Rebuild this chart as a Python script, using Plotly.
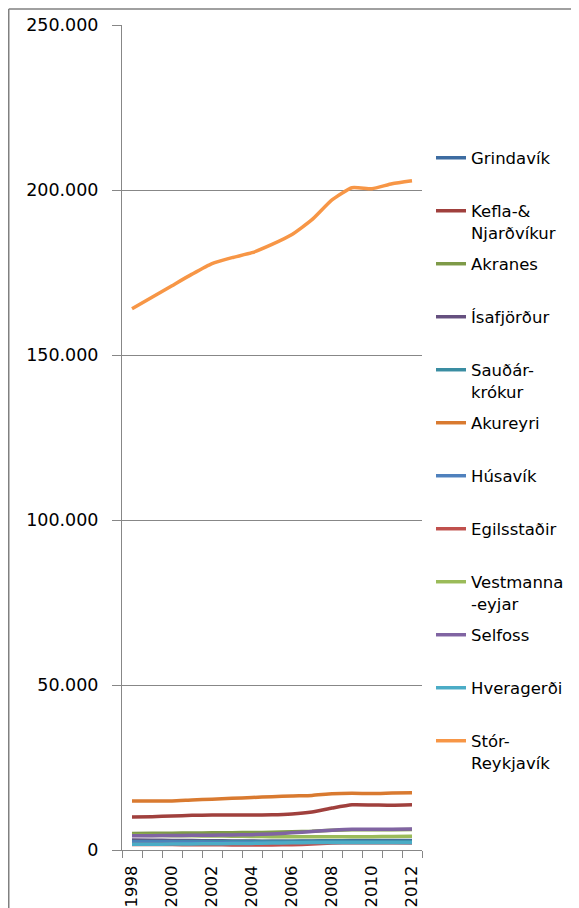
import plotly.graph_objects as go

years = list(range(1998, 2013))

names = ["Grindavík", "Kefla-&<br>Njarðvíkur", "Akranes", "Ísafjörður", "Sauðár-<br>krókur",
         "Akureyri", "Húsavík", "Egilsstaðir", "Vestmanna<br>-eyjar", "Selfoss",
         "Hveragerði", "Stór-<br>Reykjavík"]

grindavik = [2300, 2300, 2350, 2400, 2450, 2450, 2500, 2550, 2650, 2750, 2800, 2850, 2850, 2850, 2850]
keflavik = [10000, 10100, 10300, 10500, 10600, 10600, 10600, 10650, 10900, 11500, 12700, 13700, 13650, 13550, 13700]
akranes = [5000, 5050, 5100, 5150, 5200, 5250, 5300, 5350, 5500, 5650, 5950, 6150, 6150, 6150, 6200]
isafjordur = [3000, 2950, 2900, 2850, 2800, 2750, 2700, 2650, 2600, 2600, 2550, 2550, 2550, 2550, 2550]
saudarkrokur = [2600, 2600, 2600, 2600, 2600, 2600, 2600, 2600, 2600, 2600, 2650, 2600, 2600, 2600, 2550]
akureyri = [14850, 14850, 14850, 15150, 15400, 15650, 15900, 16150, 16400, 16550, 17050, 17200, 17100, 17250, 17350]
husavik = [2450, 2400, 2400, 2350, 2300, 2300, 2300, 2250, 2250, 2250, 2250, 2250, 2250, 2250, 2200]
egilsstadir = [1700, 1650, 1650, 1600, 1600, 1550, 1550, 1550, 1600, 1800, 2100, 2200, 2200, 2200, 2200]
vestmannaeyjar = [4450, 4400, 4350, 4300, 4250, 4200, 4100, 4050, 4050, 4000, 4000, 4050, 4050, 4100, 4150]
selfoss = [4300, 4350, 4400, 4450, 4500, 4550, 4650, 4850, 5200, 5600, 6000, 6300, 6300, 6300, 6350]
hveragerdi = [1750, 1750, 1800, 1850, 1900, 1950, 2000, 2100, 2200, 2250, 2300, 2300, 2300, 2300, 2300]
storreykjavik = [164000, 167500, 171000, 174500, 177700, 179500, 181000, 183500, 186500, 191000, 197000,
                 200700, 200400, 201900, 202800]

series = [grindavik, keflavik, akranes, isafjordur, saudarkrokur, akureyri, husavik,
          egilsstadir, vestmannaeyjar, selfoss, hveragerdi, storreykjavik]
colors = ["#3D6CA1", "#A0403D", "#7E9A48", "#65507F", "#3A8DA2", "#D97A30",
          "#4F81BD", "#C0504D", "#9BBB59", "#8064A2", "#4BACC6", "#F79646"]

y_tickvals = [0, 50000, 100000, 150000, 200000, 250000]
y_ticktext = ["0", "50.000", "100.000", "150.000", "200.000", "250.000"]
x_label_years = [1998, 2000, 2002, 2004, 2006, 2008, 2010, 2012]

FONT = "DejaVu Sans"
GRID = "#878787"

fig = go.Figure()
for name, vals, col in zip(names, series, colors):
    label = name if "<br>" in name else name + "<br>\u00a0"
    fig.add_trace(go.Scatter(
        x=years, y=vals, mode="lines", name=label, legendgroup=name,
        line=dict(color=col, width=3.5, shape="spline", smoothing=0.5),
        hoverinfo="skip",
    ))

# page has an 8px body margin; figure coordinates = page coordinates - 8
OFF = 8
W, H = 579 - OFF, 908 - OFF

def fx(p):  # page pixel -> figure fraction (paper, margins are zero)
    return (p - OFF) / W

def fy(p):
    return 1 - (p - OFF) / H

fig.update_layout(
    width=W, height=H, autosize=False,
    margin=dict(l=0, r=0, t=0, b=0, pad=0, autoexpand=False),
    paper_bgcolor="white", plot_bgcolor="white",
    font=dict(family=FONT, size=17, color="#000000"),
    showlegend=True,
    legend=dict(
        x=fx(431), y=fy(140.5), xanchor="left", yanchor="top",
        font=dict(family=FONT, size=16.5, color="#000000"),
        valign="top", tracegroupgap=7.1, itemwidth=30,
        bgcolor="rgba(0,0,0,0)", borderwidth=0,
    ),
    shapes=[
        dict(type="line", xref="paper", yref="paper", layer="above",
             x0=fx(8.75), x1=1.0, y0=fy(9), y1=fy(9),
             line=dict(color="#808080", width=1.5)),
        dict(type="line", xref="paper", yref="paper", layer="above",
             x0=fx(8.75), x1=fx(8.75), y0=fy(9), y1=0.0,
             line=dict(color="#808080", width=1.5)),
    ],
)

fig.update_yaxes(
    domain=[fy(850), fy(25)],
    range=[0, 250000], tickmode="array", tickvals=y_tickvals, ticktext=y_ticktext,
    showgrid=True, gridcolor=GRID, gridwidth=1, zeroline=False,
    showline=True, linecolor=GRID, linewidth=1, automargin=False,
    ticks="outside", ticklen=9, tickcolor=GRID, tickwidth=1,
    ticklabelstandoff=10,
    tickfont=dict(family=FONT, size=17.5, color="#000000"),
    fixedrange=True,
)

fig.update_xaxes(
    domain=[fx(122), fx(422)],
    range=[1997.5, 2012.5], tickmode="array", tickvals=x_label_years,
    ticktext=[str(v) for v in x_label_years], tickangle=-90,
    showgrid=False, zeroline=False, showline=True, linecolor=GRID, linewidth=1,
    automargin=False,
    ticks="", ticklabelstandoff=8,
    tickfont=dict(family=FONT, size=16.5, color="#000000"),
    minor=dict(tickmode="array", tickvals=[y - 0.5 for y in years] + [2012.5],
               ticks="outside", ticklen=7, tickcolor=GRID, tickwidth=1, showgrid=False),
    fixedrange=True,
)

fig.write_html("out.html")
